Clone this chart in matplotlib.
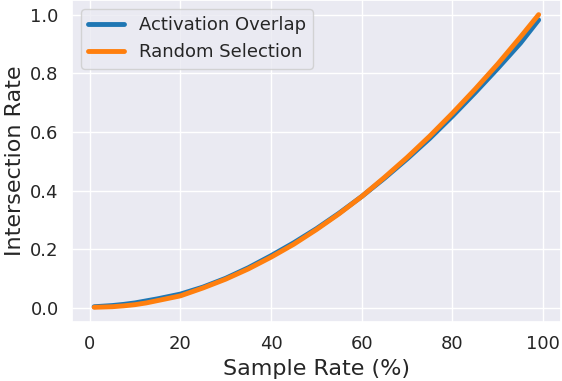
import matplotlib
matplotlib.use("Agg")
import matplotlib.pyplot as plt
import seaborn as sns

sample_rate = [1, 3, 5, 7.5, 10, 12.5, 15, 17.5, 20, 25, 30, 35, 40, 45, 50,
               55, 60, 65, 70, 75, 80, 85, 90, 95, 99]
activation_overlap = [0.004, 0.006, 0.008, 0.012, 0.017, 0.024, 0.031, 0.039, 0.047, 0.071, 0.101,
                      0.137, 0.178, 0.222, 0.270, 0.323, 0.380, 0.442, 0.508, 0.578, 0.654,
                      0.734, 0.817, 0.903, 0.982]
random_selection = [0.002, 0.003, 0.004, 0.007, 0.011, 0.017, 0.025, 0.033, 0.041, 0.068, 0.098,
                    0.133, 0.173, 0.217, 0.267, 0.321, 0.380, 0.445, 0.513, 0.586, 0.664,
                    0.746, 0.832, 0.924, 1.0]

sns.set_theme(style="darkgrid")

fig, ax = plt.subplots(figsize=(5.62, 3.81), dpi=100)
ax.plot(sample_rate, activation_overlap, color="tab:blue", linewidth=3.5, label="Activation Overlap")
ax.plot(sample_rate, random_selection, color="tab:orange", linewidth=3.5, label="Random Selection")
ax.set_xlabel("Sample Rate (%)", fontsize=16)
ax.set_ylabel("Intersection Rate", fontsize=16)
ax.tick_params(labelsize=13)
ax.set_xticks([0, 20, 40, 60, 80, 100])
ax.set_yticks([0.0, 0.2, 0.4, 0.6, 0.8, 1.0])
ax.legend(loc="upper left", fontsize=13)
fig.subplots_adjust(left=0.128, right=0.998, bottom=0.155, top=1.0)
fig.savefig("out.png")
